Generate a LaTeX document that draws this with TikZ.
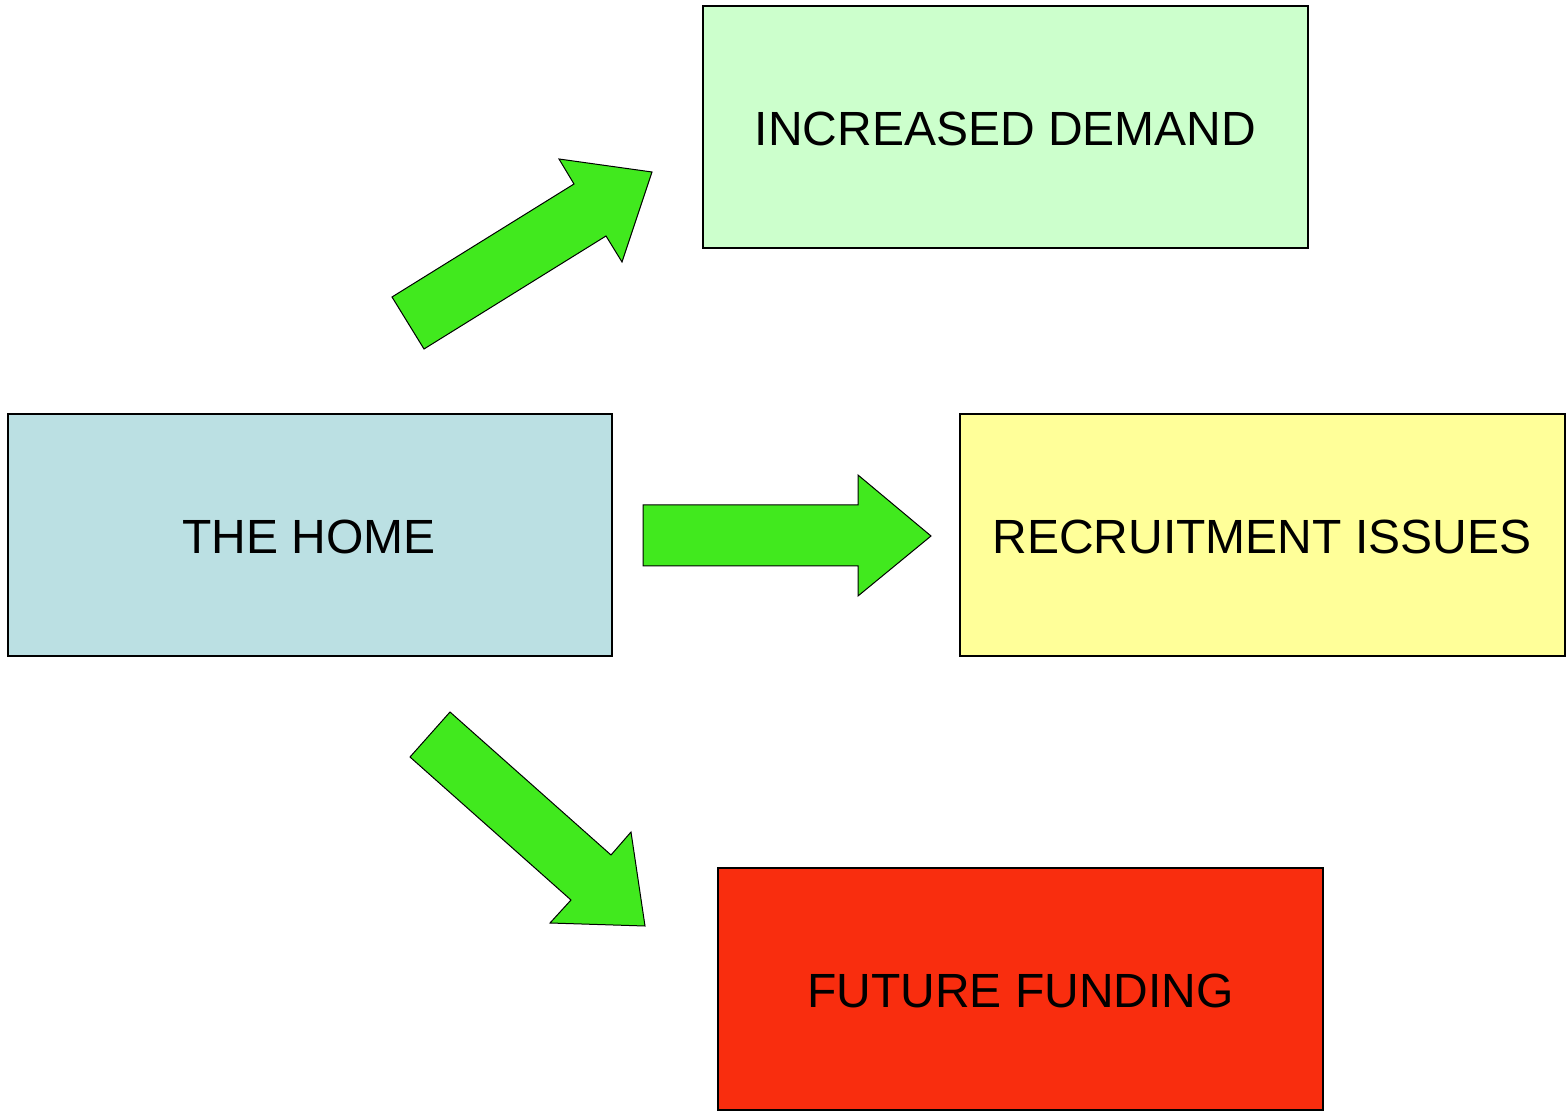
\documentclass[tikz,border=0pt]{standalone}
\usepackage{fontspec}
\setmainfont{Liberation Sans}
\definecolor{homeblue}{HTML}{BBE0E3}
\definecolor{demandgreen}{HTML}{CCFFCC}
\definecolor{recruityellow}{HTML}{FFFF99}
\definecolor{fundred}{HTML}{F92D0E}
\definecolor{arrowgreen}{HTML}{41E91E}
\begin{document}
\begin{tikzpicture}[x=0.5pt,y=-0.5pt,
  box/.style={draw=black, line width=0.6pt, font=\fontsize{24}{28}\selectfont},
  blockarrow/.style={draw=black, line width=0.5pt, fill=arrowgreen, line join=miter}]
\useasboundingbox (0,0) rectangle (1567,1111);
% boxes
\draw[box, fill=demandgreen] (703,6) rectangle (1308,248);
\node[font=\fontsize{24}{28}\selectfont] (demand) at (1005.5,129) {INCREASED DEMAND};
\draw[box, fill=homeblue] (8,414) rectangle (612,656);
\node[font=\fontsize{24}{28}\selectfont] (home) at (309,537) {THE HOME};
\draw[box, fill=recruityellow] (960,414) rectangle (1565,656);
\node[font=\fontsize{24}{28}\selectfont] (recruit) at (1262,537) {RECRUITMENT ISSUES};
\draw[box, fill=fundred] (718,868) rectangle (1323,1110);
\node[font=\fontsize{24}{28}\selectfont] (fund) at (1020.5,991) {FUTURE FUNDING};
% block arrows
\draw[blockarrow] (392,297) -- (574,184) -- (559,159) -- (652,172) -- (622,262) -- (606,236) -- (424,349) -- cycle;
\draw[blockarrow] (643,505) -- (858,505) -- (858,475) -- (931,536) -- (858,596) -- (858,566) -- (643,566) -- cycle;
\draw[blockarrow] (410,757) -- (450,712) -- (611,855) -- (631,832) -- (645,926) -- (550,923) -- (571,900) -- cycle;
\end{tikzpicture}
\end{document}
